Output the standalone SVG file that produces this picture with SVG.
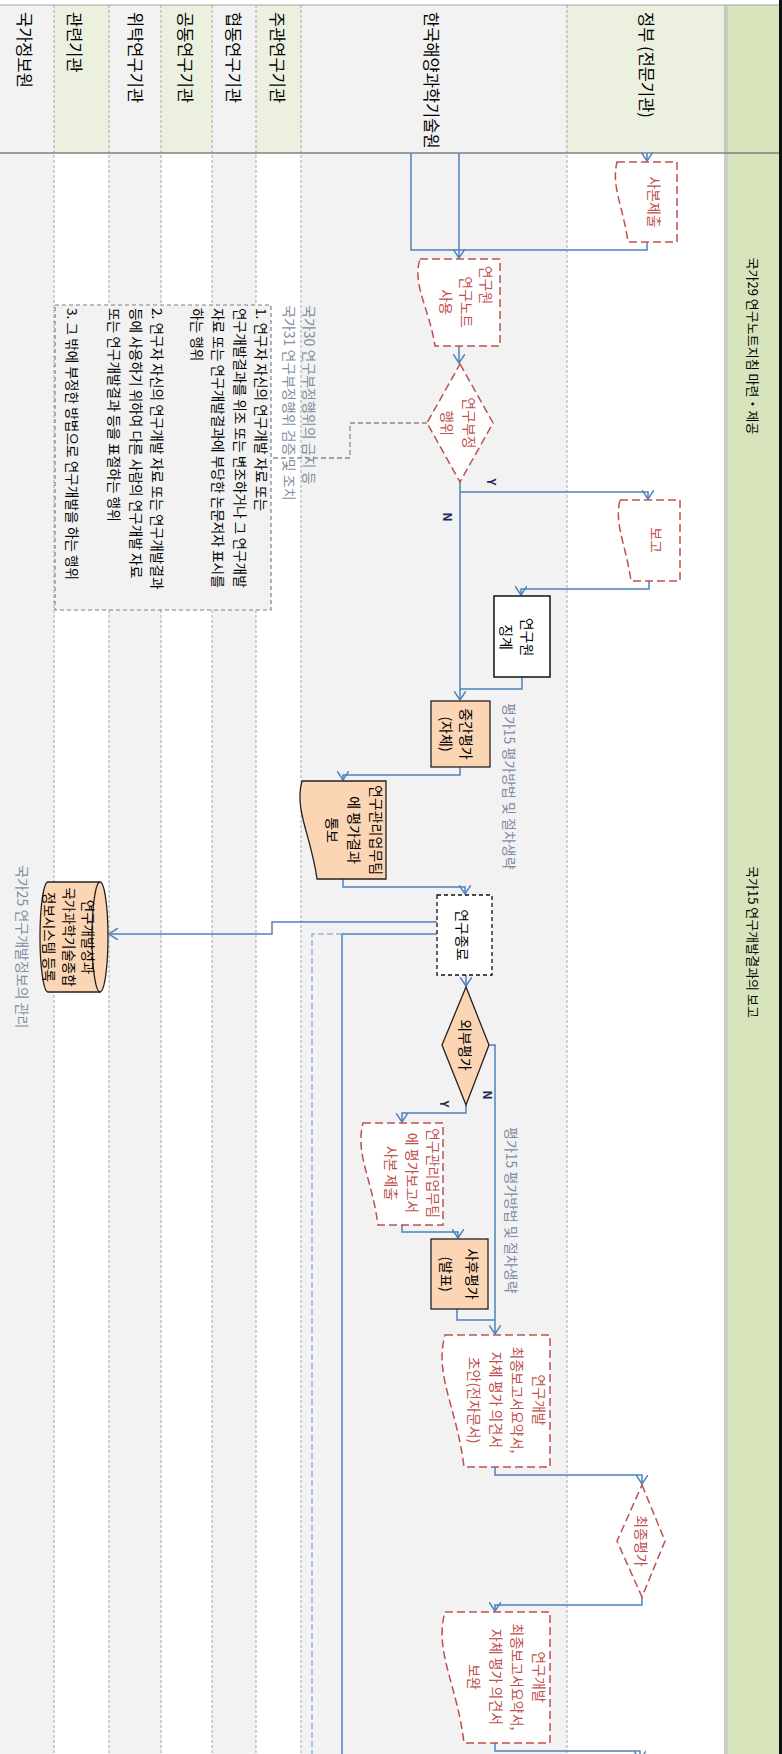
<svg xmlns="http://www.w3.org/2000/svg" width="782" height="1754" viewBox="0 0 782 1754">
<defs>
<style>
text{font-family:"Noto Sans CJK KR","Noto Sans",sans-serif;dominant-baseline:central}
.hd{font-size:16.5px;fill:#000}
.ttl{font-size:13px;fill:#000;text-anchor:middle}
.nt{font-size:14px;fill:#000;text-anchor:middle}
.rt{font-size:14px;fill:#c0504d;text-anchor:middle}
.an{font-size:14px;fill:#7f8da3}
.note{font-size:13.7px;fill:#000}
.lbl{font-size:12px;font-weight:bold;fill:#1f2a5a;text-anchor:middle}
.lane{stroke:#a6a6a6;stroke-width:1;stroke-dasharray:3 2}
.conn{fill:none;stroke:#4f81bd;stroke-width:1.5}
.arr{marker-end:url(#ah)}
.red{fill:#fff;stroke:#c0504d;stroke-width:1.5;stroke-dasharray:8 4}
.peach{fill:#fcd5b4;stroke:#222;stroke-width:1.3}
</style>
<marker id="ah" viewBox="0 0 10 12" refX="9" refY="6" markerWidth="10" markerHeight="12" markerUnits="userSpaceOnUse" orient="auto"><path d="M0,0 L9,6 L0,12" fill="none" stroke="#4f81bd" stroke-width="1.5"/></marker>
</defs>

<g id="background">
<rect x="0" y="0" width="782" height="1754" fill="#fff"/>
<rect x="0" y="5" width="54" height="1749" fill="#f2f2f2"/>
<rect x="54" y="5" width="55" height="148" fill="#ebf1de"/>
<rect x="109" y="5" width="52" height="1749" fill="#f2f2f2"/>
<rect x="161" y="5" width="51" height="148" fill="#ebf1de"/>
<rect x="212" y="5" width="44" height="1749" fill="#f2f2f2"/>
<rect x="256" y="5" width="45" height="148" fill="#ebf1de"/>
<rect x="301" y="5" width="266" height="1749" fill="#f2f2f2"/>
<rect x="567" y="5" width="159" height="148" fill="#ebf1de"/>
<rect x="726" y="5" width="53" height="1749" fill="#d7e4bc"/>
<rect x="779" y="0" width="3" height="1754" fill="#111"/>
<line x1="0" y1="5" x2="779" y2="5" stroke="#a6a6a6" stroke-width="1"/>
<g class="lane">
<line x1="54" y1="5" x2="54" y2="1754"/>
<line x1="109" y1="5" x2="109" y2="1754"/>
<line x1="161" y1="5" x2="161" y2="1754"/>
<line x1="212" y1="5" x2="212" y2="1754"/>
<line x1="256" y1="5" x2="256" y2="1754"/>
<line x1="301" y1="5" x2="301" y2="1754"/>
<line x1="567" y1="5" x2="567" y2="1754"/>
</g>
<line x1="725" y1="5" x2="725" y2="1754" stroke="#999" stroke-width="1"/>
<line x1="727" y1="5" x2="727" y2="1754" stroke="#bbb" stroke-width="1"/>
<line x1="0" y1="153" x2="779" y2="153" stroke="#808080" stroke-width="1.5"/>
</g>

<g id="lane-headers">
<text class="hd" transform="translate(25,12) rotate(90)">국가정보원</text>
<text class="hd" transform="translate(75,12) rotate(90)">관련기관</text>
<text class="hd" transform="translate(136,12) rotate(90)">위탁연구기관</text>
<text class="hd" transform="translate(186,12) rotate(90)">공동연구기관</text>
<text class="hd" transform="translate(234,12) rotate(90)">협동연구기관</text>
<text class="hd" transform="translate(278,12) rotate(90)">주관연구기관</text>
<text class="hd" transform="translate(432,12) rotate(90)">한국해양과학기술원</text>
<text class="hd" transform="translate(647,12) rotate(90)">정부 (전문기관)</text>
</g>

<g id="titles">
<text class="ttl" transform="translate(753,346) rotate(90)">국가29 연구노트지침 마련・제공</text>
<text class="ttl" transform="translate(753,942) rotate(90)">국가15 연구개발결과의 보고</text>
</g>

<g id="annotations">
<text class="an" transform="translate(310,305) rotate(90)">국가30 연구부정행위의 금지 등</text>
<text class="an" transform="translate(290,305) rotate(90)">국가31 연구부정행위 검증 및 조치</text>
<text class="an" transform="translate(510,703) rotate(90)">평가15 평가방법 및 절차생략</text>
<text class="an" transform="translate(512,1127) rotate(90)">평가15 평가방법 및 절차생략</text>
<text class="an" transform="translate(23,865) rotate(90)">국가25 연구개발정보의 관리</text>
</g>

<g id="connectors">
<polyline class="conn" points="427,423 350,423 350,458 271,458" style="stroke:#8c8c8c;stroke-width:1.3;stroke-dasharray:5 3"/>
<polyline class="conn arr" points="647,153 647,161"/>
<polyline class="conn" points="411,153 411,250 459,250"/>
<polyline class="conn arr" points="459,153 459,258"/>
<polyline class="conn" points="647,242 647,250 459,250"/>
<polyline class="conn arr" points="459,346 459,363"/>
<polyline class="conn arr" points="460,482 460,700"/>
<polyline class="conn arr" points="460,492 648,492 648,499"/>
<polyline class="conn arr" points="649,581 649,589 521,589 521,595"/>
<polyline class="conn" points="522,677 522,689 460,689"/>
<polyline class="conn arr" points="460,767 460,775 343,775 343,780"/>
<polyline class="conn arr" points="343,879 343,887 465,887 465,894"/>
<polyline class="conn arr" points="437,922 272,922 272,934 109,934"/>
<polyline class="conn" points="437,934 342,934 342,1754"/>
<polyline class="conn" points="342,934 312,934 312,1754" style="stroke:#95b3d7;stroke-dasharray:6 3"/>
<polyline class="conn arr" points="466,975 466,986"/>
<polyline class="conn arr" points="466,1105 466,1113 402,1113 402,1122"/>
<polyline class="conn arr" points="489,1045 495,1045 495,1334"/>
<polyline class="conn arr" points="402,1225 402,1232 458,1232 458,1238"/>
<polyline class="conn" points="457,1309 457,1320 495,1320"/>
<polyline class="conn arr" points="495,1467 495,1475 642,1475 642,1484"/>
<polyline class="conn arr" points="642,1597 642,1605 495,1605 495,1611"/>
<polyline class="conn arr" points="495,1743 495,1751 640,1751 640,1760"/>
<text class="lbl" transform="translate(492,482) rotate(90)">Y</text>
<text class="lbl" transform="translate(448,517) rotate(90)">N</text>
<text class="lbl" transform="translate(445,1104) rotate(90)">Y</text>
<text class="lbl" transform="translate(488,1095) rotate(90)">N</text>
</g>

<g id="note-box">
<rect x="55" y="305" width="216" height="305" fill="#f2f2f2" stroke="#808080" stroke-width="1.2" stroke-dasharray="4 3"/>
<text class="note" transform="translate(262,308) rotate(90)">
<tspan x="0" y="0">1. 연구자 자신의 연구개발 자료 또는</tspan>
<tspan x="0" y="21.5">연구개발결과를 위조 또는 변조하거나 그 연구개발</tspan>
<tspan x="0" y="43">자료 또는 연구개발결과에 부당한 논문저자 표시를</tspan>
<tspan x="0" y="64.5">하는 행위</tspan>
<tspan x="0" y="104">2. 연구자 자신의 연구개발 자료 또는 연구개발결과</tspan>
<tspan x="0" y="125.5">등에 사용하기 위하여 다른 사람의 연구개발 자료</tspan>
<tspan x="0" y="147">또는 연구개발결과 등을 표절하는 행위</tspan>
<tspan x="0" y="189">3. 그 밖에 부정한 방법으로 연구개발을 하는 행위</tspan>
</text>
</g>

<g id="n-copy">
<path class="red" d="M617,162 L677,162 L677,242 L628,242 C623,206 611,186 617,162 Z"/>
<text class="rt" transform="translate(655,202) rotate(90)">사본제출</text>
</g>

<g id="n-notebook">
<path class="red" d="M420,259 L500,259 L500,346 L435,346 C429,307 412,285 420,259 Z"/>
<text class="rt" transform="translate(487,302) rotate(90)"><tspan x="-17" y="0">연구원</tspan><tspan x="0" y="20">연구노트</tspan><tspan x="0" y="40">사용</tspan></text>
</g>

<g id="n-misconduct">
<polygon class="red" points="460,364 493,423 460,482 427,423"/>
<text class="rt" transform="translate(470,423) rotate(90)"><tspan x="0" y="0">연구부정</tspan><tspan x="0" y="22">행위</tspan></text>
</g>

<g id="n-report">
<path class="red" d="M620,500 L680,500 L680,581 L631,581 C626,545 614,524 620,500 Z"/>
<text class="rt" transform="translate(657,540) rotate(90)">보고</text>
</g>

<g id="n-discipline">
<rect x="494" y="596" width="56" height="81" fill="#fff" stroke="#111" stroke-width="1.5"/>
<text class="nt" transform="translate(528,637) rotate(90)"><tspan x="0" y="0">연구원</tspan><tspan x="0" y="21">징계</tspan></text>
</g>

<g id="n-midterm">
<rect class="peach" x="431" y="701" width="59" height="66"/>
<text class="nt" transform="translate(467,734) rotate(90)"><tspan x="0" y="0">중간평가</tspan><tspan x="0" y="20">(자체)</tspan></text>
</g>

<g id="n-notify">
<path class="peach" d="M302,781 L386,781 L386,879 L317,879 C311,835 294,810 302,781 Z"/>
<text class="nt" transform="translate(377,830) rotate(90)"><tspan x="0" y="0">연구관리업무팀</tspan><tspan x="0" y="22">에 평가결과</tspan><tspan x="0" y="44">통보</tspan></text>
</g>

<g id="n-end">
<rect x="437" y="895" width="55" height="80" fill="#fff" stroke="#111" stroke-width="1.3" stroke-dasharray="4 3"/>
<text class="nt" transform="translate(463,935) rotate(90)">연구종료</text>
</g>

<g id="n-ntis">
<path class="peach" d="M48,882 L100,882 A8,55 0 0,1 100,992 L48,992 A8,55 0 0,1 48,882 Z"/>
<path d="M100,882 A8,55 0 0,0 100,992" fill="none" stroke="#222" stroke-width="1.3"/>
<text class="nt" style="font-size:13.5px" transform="translate(89,937) rotate(90)"><tspan x="0" y="0">연구개발성과</tspan><tspan x="0" y="19.5">국가과학기술종합</tspan><tspan x="0" y="39">정보시스템 등록</tspan></text>
</g>

<g id="n-external">
<polygon class="peach" points="466,987 489,1045 466,1105 442,1045"/>
<text class="nt" transform="translate(466,1045) rotate(90)">외부평가</text>
</g>

<g id="n-evalreport">
<path class="red" d="M363,1123 L443,1123 L443,1225 L378,1225 C372,1179 355,1154 363,1123 Z"/>
<text class="rt" transform="translate(434,1173) rotate(90)"><tspan x="0" y="0">연구관리업무팀</tspan><tspan x="0" y="21">에 평가보고서</tspan><tspan x="0" y="42">사본 제출</tspan></text>
</g>

<g id="n-post">
<rect class="peach" x="431" y="1239" width="57" height="70"/>
<text class="nt" transform="translate(473,1274) rotate(90)"><tspan x="0" y="0">사후평가</tspan><tspan x="0" y="26">(발표)</tspan></text>
</g>

<g id="n-draft">
<path class="red" d="M445,1335 L550,1335 L550,1467 L464,1467 C457,1408 434,1375 445,1335 Z"/>
<text class="rt" transform="translate(540,1400) rotate(90)"><tspan x="0" y="0">연구개발</tspan><tspan x="0" y="22">최종보고서요약서,</tspan><tspan x="0" y="43">자체 평가 의견서</tspan><tspan x="0" y="65">초안(전자문서)</tspan></text>
</g>

<g id="n-final">
<polygon class="red" points="642,1485 665,1541 642,1597 617,1541"/>
<text class="rt" transform="translate(642,1541) rotate(90)">최종평가</text>
</g>

<g id="n-revise">
<path class="red" d="M445,1612 L550,1612 L550,1743 L464,1743 C457,1684 434,1651 445,1612 Z"/>
<text class="rt" transform="translate(540,1677) rotate(90)"><tspan x="0" y="0">연구개발</tspan><tspan x="0" y="22">최종보고서요약서,</tspan><tspan x="0" y="43">자체 평가 의견서</tspan><tspan x="0" y="65">보완</tspan></text>
</g>
</svg>
